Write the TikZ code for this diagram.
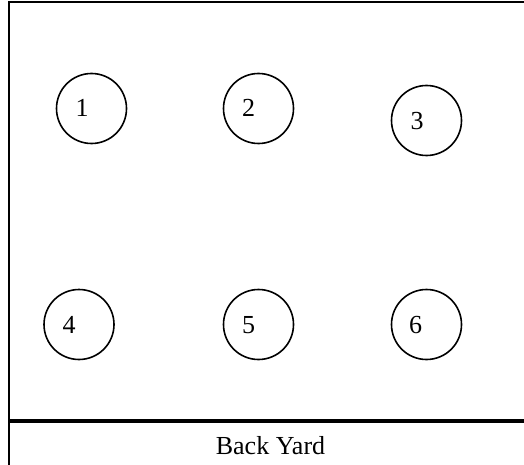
\documentclass[tikz,border=0pt]{standalone}
\usepackage{fontspec}
\setmainfont{Liberation Serif}
\begin{document}
\begin{tikzpicture}[x=1pt,y=-1pt,
  tree/.style={draw=black,circle,line width=1.6pt,minimum size=70pt,inner sep=0pt},
  num/.style={anchor=base,inner sep=0pt,font=\fontsize{26}{30}\selectfont},
  border/.style={line width=2pt},
  fence/.style={line width=4pt}]
\useasboundingbox (0,0) rectangle (524,465);
\coordinate (tl) at (9,2);
\coordinate (tr) at (524,2);
\coordinate (bl) at (9,465);
\coordinate (fl) at (9,421);
\coordinate (fr) at (524,421);
\draw[border] (tr) -- (tl) -- (bl);
\draw[fence] (fl) -- (fr);
\node[tree] (c1) at (91.5,108.5) {};
\node[tree] (c2) at (258.5,108.5) {};
\node[tree] (c3) at (426.5,120.5) {};
\node[tree] (c4) at (79,324.5) {};
\node[tree] (c5) at (258.5,324.5) {};
\node[tree] (c6) at (426.5,324.5) {};
\node[num] (t1) at (82,116.8) {1};
\node[num] (t2) at (248.5,116.8) {2};
\node[num] (t3) at (417,130) {3};
\node[num] (t4) at (69,333.3) {4};
\node[num] (t5) at (248.5,333.3) {5};
\node[num] (t6) at (415.5,333.3) {6};
\node[num] (by) at (270.5,454.3) {Back Yard};
\end{tikzpicture}
\end{document}
